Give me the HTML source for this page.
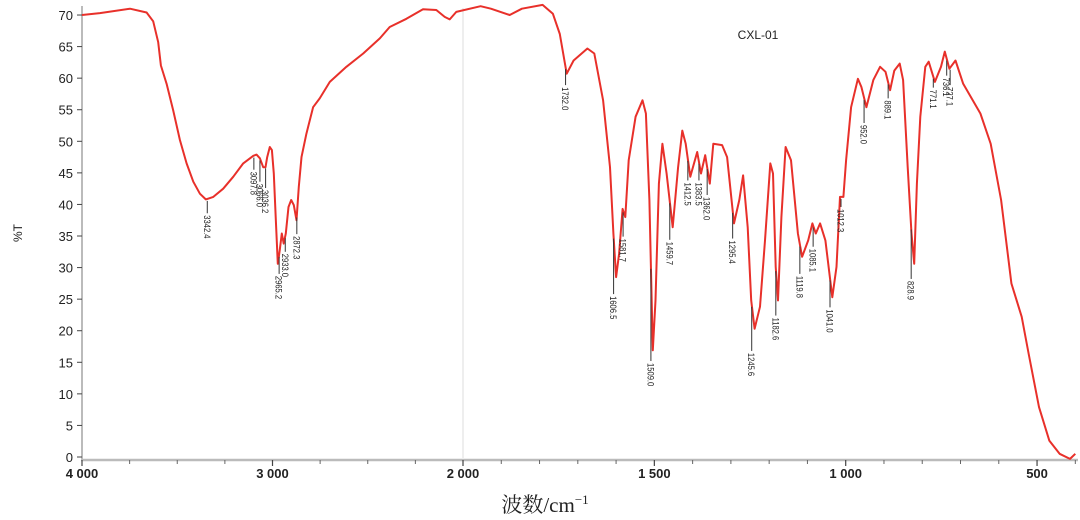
<!DOCTYPE html>
<html><head><meta charset="utf-8"><style>
html,body{margin:0;padding:0;background:#fff;}
svg{display:block;font-family:"Liberation Sans",Arial,sans-serif;}
</style></head><body>
<svg id="chart" width="1080" height="520" viewBox="0 0 1080 520" xmlns="http://www.w3.org/2000/svg">
<g id="axes"></g>
<g id="series"></g>
<g id="labels"></g>
<text x="758" y="39" font-size="12" text-anchor="middle" fill="#222">CXL-01</text>
<text transform="translate(22,233) rotate(-90)" font-size="12" text-anchor="middle" fill="#222">%T</text>
<text x="545" y="512" font-size="21" text-anchor="middle" fill="#222" font-family="'Liberation Serif','Noto Serif CJK SC',serif">波数/cm<tspan font-size="13" dy="-8">−1</tspan></text>
</svg>
<script>
const wavenumbers=[4000,3906,3748,3661,3626,3600,3586,3556,3521,3486,3451,3416,3381,3350,3311,3259,3206,3154,3101,3084,3066,3049,3037,3028,3014,3003,2993,2983,2972,2962,2951,2941,2930,2916,2902,2888,2874,2862,2848,2822,2787,2752,2699,2612,2524,2437,2385,2297,2210,2140,2096,2070,2035,1954,1927,1878,1846,1792,1765,1747,1729,1711,1675,1657,1634,1616,1607,1600,1592,1583,1576,1567,1549,1531,1522,1513,1504,1497,1488,1479,1468,1452,1438,1427,1418,1406,1388,1378,1367,1355,1346,1323,1310,1292,1278,1268,1256,1247,1238,1224,1211,1197,1190,1183,1177,1168,1157,1143,1125,1114,1098,1087,1078,1067,1053,1035,1024,1015,1006,999,986,968,959,946,928,910,896,884,873,859,850,838,828,821,814,805,792,783,767,751,741,729,713,693,648,621,594,567,540,522,495,468,441,414,400];
const transmittance=[70,70.3,71,70.4,69,65.7,62,59.1,54.9,50.2,46.5,43.6,41.7,40.8,41.2,42.5,44.4,46.5,47.7,47.9,47.3,45.9,45.9,47.5,49.1,48.6,44.9,38,30.6,32.7,35.4,33.8,35.4,39.6,40.7,39.9,37.5,42.8,47.5,51.2,55.4,56.8,59.4,61.8,63.9,66.3,68.1,69.4,70.9,70.8,69.7,69.3,70.5,71.4,71,70,71,71.6,70.2,67,60.7,62.8,64.7,63.9,56.5,45.9,35.4,28.5,32.2,39.3,38,47,53.9,56.5,54.4,40.7,16.9,24.8,43.3,49.6,44.9,36.4,45.9,51.7,49.6,44.4,48.3,44.9,47.8,43.3,49.6,49.4,47.5,37,40.7,44.6,36.4,24.8,20.3,23.8,34.3,46.5,44.9,30.1,24.8,38,49.1,47,35.4,31.7,34.3,37,35.4,37,34.3,25.3,30.1,41.2,41.2,47,55.4,59.9,58.6,55.4,59.7,61.8,61,58.1,61.2,62.3,59.7,45.9,35.4,30.6,43.3,53.9,61.8,62.6,59.4,61.8,64.2,61.5,62.8,59.1,54.4,49.6,40.7,27.5,22.2,16.4,7.9,2.6,0.5,-0.3,0.5];
const yTicks=[0,5,10,15,20,25,30,35,40,45,50,55,60,65,70];
const xMajorTicks=[4000,3000,2000,1500,1000,500];
const xMajorLabels=["4 000","3 000","2 000","1 500","1 000","500"];
const peakWn=[3342.4,3097.8,3066.0,3036.2,2965.2,2933.0,2872.3,1732.0,1606.5,1581.7,1509.0,1459.7,1412.5,1383.5,1362.0,1295.4,1245.6,1182.6,1119.8,1085.1,1041.0,1012.3,952.0,889.1,828.9,771.1,736.1,727.1];
const peakLabelT=[38.6,45.5,43.6,42.6,29,32.5,35.3,58.9,25.8,34.9,15.2,34.4,43.8,43.8,41.5,34.6,16.8,22.4,29,33.3,23.7,39.6,52.9,56.8,28.2,58.5,60.4,58.9];
const peakLabels=["3342.4","3097.8","3066.0","3036.2","2965.2","2933.0","2872.3","1732.0","1606.5","1581.7","1509.0","1459.7","1412.5","1383.5","1362.0","1295.4","1245.6","1182.6","1119.8","1085.1","1041.0","1012.3","952.0","889.1","828.9","771.1","736.1","727.1"];

const NS="http://www.w3.org/2000/svg";
function x(wn){return wn>=2000?82+(4000-wn)*0.1905:463+(2000-wn)*0.3827;}
function y(t){return 457-t*6.314;}
function interpT(wn){for(let i=0;i<wavenumbers.length-1;i++){const a=wavenumbers[i],b=wavenumbers[i+1];if(wn<=a&&wn>=b){const f=(a-wn)/(a-b);return transmittance[i]+f*(transmittance[i+1]-transmittance[i]);}}return transmittance[transmittance.length-1];}
function mk(tag,attrs,parent){const e=document.createElementNS(NS,tag);for(const k in attrs)e.setAttribute(k,attrs[k]);parent.appendChild(e);return e;}

const axes=document.getElementById('axes');
let g=mk('line',{x1:x(2000),y1:8,x2:x(2000),y2:458,stroke:'#ddd','stroke-width':1},axes);


let yl=mk('line',{x1:82,y1:6,x2:82,y2:460,stroke:'#bbb','stroke-width':2},axes);


let xl=mk('line',{x1:81,y1:460,x2:1078,y2:460,stroke:'#bbb','stroke-width':2.5},axes);


yTicks.forEach(v=>{
  const t=mk('line',{x1:77,y1:y(v),x2:82,y2:y(v),stroke:'#444','stroke-width':1},axes);
  
  
  const l=mk('text',{x:73,y:y(v)+5,'font-size':13,'text-anchor':'end',fill:'#222'},axes);
  l.textContent=v;
  
  
});
xMajorTicks.forEach((v,i)=>{
  const t=mk('line',{x1:x(v),y1:460,x2:x(v),y2:466,stroke:'#444','stroke-width':1.2},axes);
  
  
  const l=mk('text',{x:x(v),y:478,'font-size':13,'text-anchor':'middle',fill:'#222','font-weight':'bold'},axes);
  l.textContent=xMajorLabels[i];
  
  
});
const minor=[];
for(let v=3750;v>2000;v-=250){if(v!==3000)minor.push(v);}
for(let v=1900;v>=400;v-=100){if(v!==1500&&v!==1000&&v!==500)minor.push(v);}
minor.forEach(v=>{
  const t=mk('line',{x1:x(v),y1:460,x2:x(v),y2:464,stroke:'#666','stroke-width':1},axes);
  
  
});

const series=document.getElementById('series');
let d='';
wavenumbers.forEach((w,i)=>{d+=(i?'L':'M')+x(w).toFixed(1)+','+y(transmittance[i]).toFixed(1);});
const p=mk('path',{d:d,fill:'none',stroke:'#e8302a','stroke-width':2,'stroke-linejoin':'round'},series);



const labels=document.getElementById('labels');
peakWn.forEach((w,i)=>{
  const px=x(w), top=y(interpT(w))+2, ty=y(peakLabelT[i]);
  const ln=mk('line',{x1:px,y1:top,x2:px,y2:ty,stroke:'#333','stroke-width':1},labels);
  
  
  const t=mk('text',{x:0,y:0,'font-size':9.5,fill:'#222',transform:'translate('+(px-3.5)+','+(ty+2)+') rotate(90) scale(0.8,1)'},labels);
  t.textContent=peakLabels[i];
  
  
});
</script>
</body></html>
